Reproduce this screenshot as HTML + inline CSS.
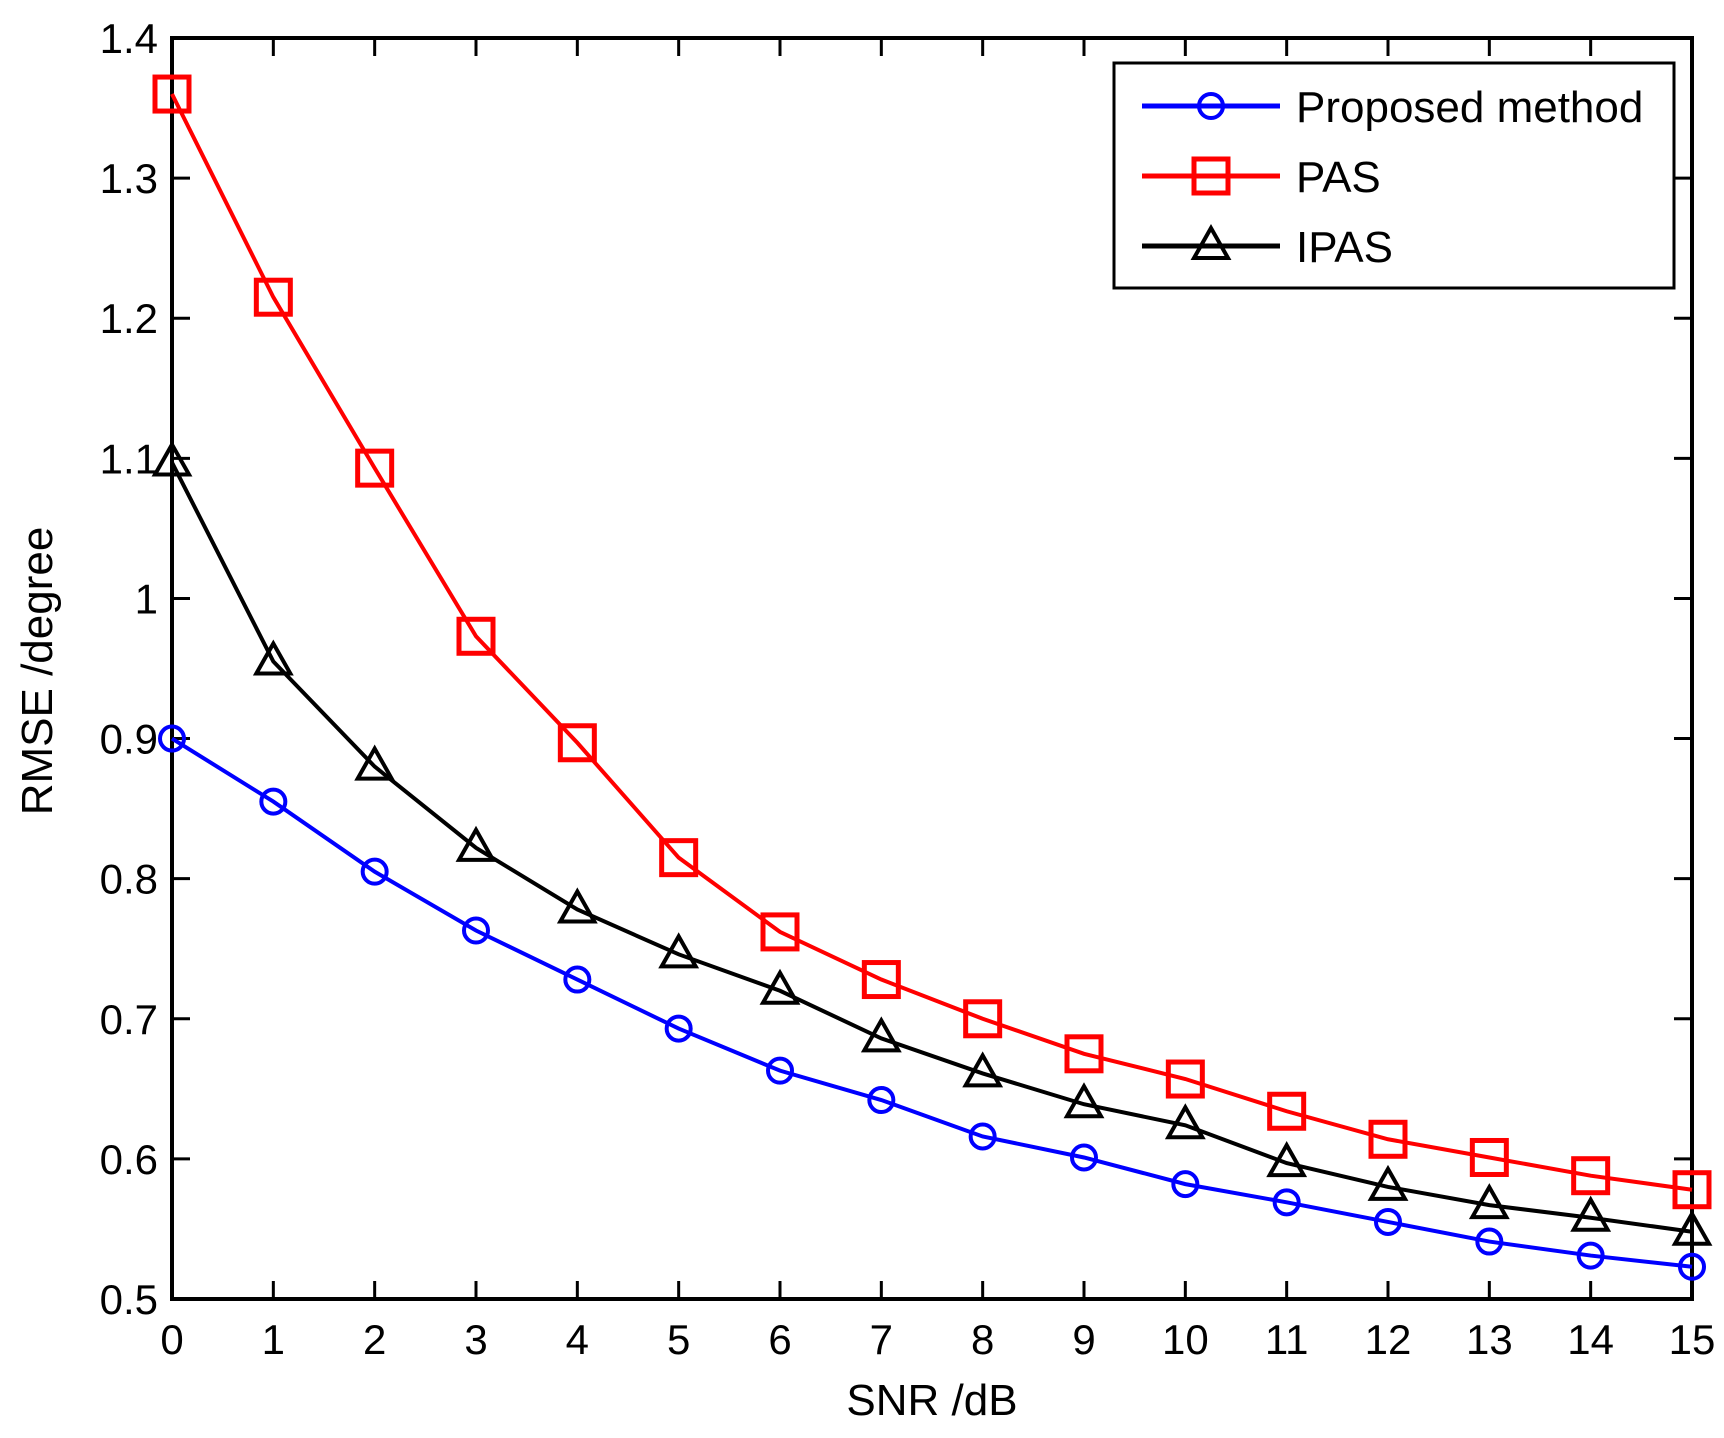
<!DOCTYPE html>
<html><head><meta charset="utf-8"><style>
body{margin:0;background:#fff}
svg text{font-family:"Liberation Sans",Arial,sans-serif;fill:#000}
</style></head><body>
<svg id="chart" width="1724" height="1433" xmlns="http://www.w3.org/2000/svg">
<g id="grid"></g>
<g id="series"></g>
<g id="legend"></g>
<text x="932" y="1415" font-size="44" text-anchor="middle">SNR /dB</text>
<text transform="translate(52,671) rotate(-90)" font-size="44" text-anchor="middle">RMSE /degree</text>
</svg>
<script>
const snr=[0,1,2,3,4,5,6,7,8,9,10,11,12,13,14,15];
const proposed=[0.90,0.855,0.805,0.763,0.728,0.693,0.663,0.642,0.616,0.601,0.582,0.569,0.555,0.541,0.531,0.523];
const pas=[1.36,1.215,1.093,0.973,0.897,0.815,0.762,0.728,0.700,0.675,0.657,0.634,0.614,0.601,0.588,0.578];
const ipas=[1.097,0.955,0.880,0.822,0.778,0.746,0.720,0.686,0.661,0.639,0.624,0.597,0.580,0.567,0.558,0.548];
const xTicks=[0,1,2,3,4,5,6,7,8,9,10,11,12,13,14,15];
const yTicks=[0.5,0.6,0.7,0.8,0.9,1.0,1.1,1.2,1.3,1.4];
const yTickLabels=["0.5","0.6","0.7","0.8","0.9","1","1.1","1.2","1.3","1.4"];
const L=172,R=1692,T=38,B=1299;
const xs=v=>L+(v-0)/(15-0)*(R-L);
const ys=v=>B-(v-0.5)/(1.4-0.5)*(B-T);
const NS="http://www.w3.org/2000/svg";
function mk(tag,attrs,parent){const e=document.createElementNS(NS,tag);for(const k in attrs)e.setAttribute(k,attrs[k]);parent.appendChild(e);return e;}
const g=document.getElementById('grid'),s=document.getElementById('series'),lg=document.getElementById('legend');
const frame=mk('rect',{x:L,y:T,width:R-L,height:B-T,fill:'none',stroke:'#000','stroke-width':4},g);


xTicks.forEach(v=>{
  const x=xs(v);
  mk('line',{x1:x,y1:B,x2:x,y2:B-18,stroke:'#000','stroke-width':3},g);
  mk('line',{x1:x,y1:T,x2:x,y2:T+18,stroke:'#000','stroke-width':3},g);
  const t=mk('text',{x:x,y:B+55,'font-size':42,'text-anchor':'middle'},g);t.textContent=v;
  
  
});
yTicks.forEach((v,i)=>{
  const y=ys(v);
  mk('line',{x1:L,y1:y,x2:L+18,y2:y,stroke:'#000','stroke-width':3},g);
  mk('line',{x1:R,y1:y,x2:R-18,y2:y,stroke:'#000','stroke-width':3},g);
  const t=mk('text',{x:L-14,y:y+15,'font-size':42,'text-anchor':'end'},g);t.textContent=yTickLabels[i];
  
  
});
function marker(type,x,y,color,parent){
  if(type==='circle')return mk('circle',{cx:x,cy:y,r:12,fill:'none',stroke:color,'stroke-width':4},parent);
  if(type==='square')return mk('rect',{x:x-17,y:y-17,width:34,height:34,fill:'none',stroke:color,'stroke-width':5},parent);
  return mk('polygon',{points:`${x},${y-18} ${x-17},${y+12} ${x+17},${y+12}`,fill:'none',stroke:color,'stroke-width':4},parent);
}
const defs=[{name:'pas',data:pas,color:'#ff0000',m:'square',label:'PAS'},
{name:'ipas',data:ipas,color:'#000',m:'triangle',label:'IPAS'},
{name:'proposed',data:proposed,color:'#0000ff',m:'circle',label:'Proposed method'}];
defs.forEach(d=>{
  const grp=mk('g',{},s);
  
  
  const pl=mk('polyline',{points:snr.map((v,i)=>xs(v)+','+ys(d.data[i])).join(' '),fill:'none',stroke:d.color,'stroke-width':4},grp);
  
  snr.forEach((v,i)=>{const m=marker(d.m,xs(v),ys(d.data[i]),d.color,grp);
    
    });
});
mk('rect',{x:1114,y:63,width:560,height:225,fill:'#fff',stroke:'#000','stroke-width':3},lg);
[defs[2],defs[0],defs[1]].forEach((d,i)=>{
  const y=106+i*70;
  const e=mk('g',{},lg);
  
  
  mk('line',{x1:1142,y1:y,x2:1280,y2:y,stroke:d.color,'stroke-width':5},e);
  marker(d.m,1211,y,d.color,e);
  const t=mk('text',{x:1296,y:y+16,'font-size':44},e);t.textContent=d.label;
});
</script>
</body></html>
